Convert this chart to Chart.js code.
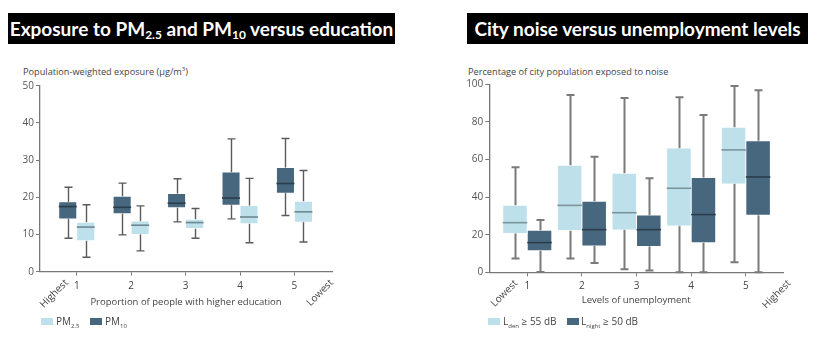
<!DOCTYPE html>
<html>
<head>
<meta charset="utf-8">
<script src="https://cdn.jsdelivr.net/npm/chart.js@4.4.1/dist/chart.umd.min.js"></script>
<style>
  body { margin: 0; background: #fff; width: 815px; height: 350px; position: relative; overflow: hidden; font-family: "Open Sans", sans-serif; }
  .title { position: absolute; top: 13px; height: 31px; background: #000; color: #fff; font-family: Lato, sans-serif; font-weight: bold; font-size: 19px; line-height: 31px; text-align: center; white-space: nowrap; }
  .title sub { font-size: 12px; vertical-align: -3px; line-height: 0; }
  .ytitle { position: absolute; font-size: 9.2px; color: #444; white-space: nowrap; }
  .ytitle sup { font-size: 6px; vertical-align: 4px; line-height: 0; }
  canvas { position: absolute; top: 60px; }
  .legend { position: absolute; top: 314px; font-size: 10px; color: #444; white-space: nowrap; }
  .legend span.item { display: inline-block; }
  .legend i { display: inline-block; width: 12px; height: 7px; vertical-align: 0px; }
  .legend sub { font-size: 6px; vertical-align: -3px; line-height: 0; }
</style>
</head>
<body>
<div class="title" style="left:8px;width:387px;">Exposure to PM<sub>2.5</sub> and PM<sub>10</sub> versus education</div>
<div class="title" style="left:467px;width:341px;">City noise versus unemployment levels</div>

<div class="ytitle" style="left:23px;top:65px;">Population-weighted exposure (µg/m<sup>3</sup>)</div>
<div class="ytitle" style="left:468px;top:65px;">Percentage of city population exposed to noise</div>

<canvas id="pmChart" width="405" height="255" style="left:0px;"></canvas>
<canvas id="noiseChart" width="405" height="255" style="left:410px;"></canvas>

<div class="legend" style="left:41px;">
  <span class="item" style="position:absolute;left:0;"><i style="background:#bde0ea;"></i></span>
  <span class="item" style="position:absolute;left:15px;">PM<sub>2.5</sub></span>
  <span class="item" style="position:absolute;left:49px;"><i style="background:#47677e;"></i></span>
  <span class="item" style="position:absolute;left:64px;">PM<sub>10</sub></span>
</div>
<div class="legend" style="left:488px;">
  <span class="item" style="position:absolute;left:0;"><i style="background:#bde0ea;"></i></span>
  <span class="item" style="position:absolute;left:15px;">L<sub>den</sub> ≥ 55 dB</span>
  <span class="item" style="position:absolute;left:79px;"><i style="background:#47677e;"></i></span>
  <span class="item" style="position:absolute;left:93px;">L<sub>night</sub> ≥ 50 dB</span>
</div>

<script>
// categories
const groups = [1, 2, 3, 4, 5];

// PM10 box values (µg/m3)
const pm10Min = [9.0, 9.9, 13.4, 14.2, 15.1];
const pm10Q1 = [14.2, 15.6, 17.2, 17.9, 21.1];
const pm10Median = [17.5, 17.3, 18.4, 19.8, 23.7];
const pm10Q3 = [18.8, 20.3, 21.0, 26.8, 28.0];
const pm10Max = [22.7, 23.8, 25.0, 35.7, 35.8];

// PM2.5 box values
const pm25Min = [3.9, 5.6, 9.0, 7.8, 8.0];
const pm25Q1 = [8.3, 10.0, 11.6, 12.9, 13.3];
const pm25Median = [12.0, 12.5, 13.2, 14.7, 16.1];
const pm25Q3 = [13.3, 13.6, 14.1, 17.8, 18.9];
const pm25Max = [18.0, 17.7, 17.0, 25.1, 27.2];

// Lden >= 55 dB (% of city population)
const ldenMin = [7.3, 7.3, 1.6, 0, 5.3];
const ldenQ1 = [20.7, 22.2, 22.5, 24.6, 47.0];
const ldenMedian = [26.4, 35.6, 31.7, 44.7, 65.1];
const ldenQ3 = [35.6, 56.9, 52.7, 66.1, 77.1];
const ldenMax = [55.9, 94.3, 92.7, 93.1, 99.1];

// Lnight >= 50 dB
const lnightMin = [0.2, 5.0, 0.9, 0, 0];
const lnightQ1 = [11.5, 14.0, 13.7, 15.8, 30.3];
const lnightMedian = [15.8, 22.7, 22.7, 30.7, 50.7];
const lnightQ3 = [22.3, 37.8, 30.5, 50.4, 70.0];
const lnightMax = [27.8, 61.5, 50.0, 83.7, 96.8];

const pmTicks = [0, 10, 20, 30, 40, 50];
const noiseTicks = [0, 20, 40, 60, 80, 100];

const DARK = '#47677e';
const LIGHT = '#bde0ea';

function boxData(q1, q3) {
    return groups.map((g, i) => ({ x: g, y: [q1[i], q3[i]] }));
}

// whiskers behind the boxes, medians on top
const boxWhiskers = {
    id: 'boxWhiskers',
    beforeDatasetsDraw(chart, args, opts) {
        const ctx = chart.ctx;
        const y = chart.scales.y;
        chart.data.datasets.forEach((ds, di) => {
            const meta = chart.getDatasetMeta(di);
            meta.data.forEach((bar, i) => {
                const x = Math.round(bar.x) + 0.5;
                const top = y.getPixelForValue(ds.whiskerMax[i]);
                const bot = y.getPixelForValue(ds.whiskerMin[i]);
                ctx.save();
                ctx.strokeStyle = opts.color;
                ctx.lineWidth = opts.width;
                ctx.beginPath();
                ctx.moveTo(x, top);
                ctx.lineTo(x, bot);
                ctx.moveTo(x - opts.cap / 2, top);
                ctx.lineTo(x + opts.cap / 2, top);
                ctx.moveTo(x - opts.cap / 2, bot);
                ctx.lineTo(x + opts.cap / 2, bot);
                ctx.stroke();
                ctx.restore();
            });
        });
    },
    afterDatasetsDraw(chart) {
        const ctx = chart.ctx;
        const y = chart.scales.y;
        chart.data.datasets.forEach((ds, di) => {
            const meta = chart.getDatasetMeta(di);
            meta.data.forEach((bar, i) => {
                const py = y.getPixelForValue(ds.median[i]);
                ctx.save();
                ctx.strokeStyle = ds.medianColor;
                ctx.lineWidth = 1.6;
                ctx.beginPath();
                ctx.moveTo(bar.x - bar.width / 2, py);
                ctx.lineTo(bar.x + bar.width / 2, py);
                ctx.stroke();
                ctx.restore();
            });
        });
    }
};

// rotated end labels (Highest / Lowest) on the x axis
const edgeLabels = {
    id: 'edgeLabels',
    afterDraw(chart, args, opts) {
        const ctx = chart.ctx;
        const x = chart.scales.x;
        const yb = chart.chartArea.bottom;
        opts.items.forEach(it => {
            ctx.save();
            ctx.translate(x.getPixelForValue(it.value), yb + 6);
            ctx.rotate(-Math.PI / 4);
            ctx.font = '10px "Open Sans"';
            ctx.fillStyle = '#444';
            ctx.textAlign = 'right';
            ctx.textBaseline = 'top';
            ctx.fillText(it.text, 0, 0);
            ctx.restore();
        });
    }
};

function makeChart(id, datasets, cfg) {
    return new Chart(document.getElementById(id), {
        type: 'bar',
        data: { datasets: datasets },
        plugins: [boxWhiskers, edgeLabels],
        options: {
            responsive: false,
            animation: false,
            layout: { padding: { top: cfg.top, right: cfg.right, left: 0, bottom: 0 } },
            plugins: {
                legend: { display: false },
                tooltip: { enabled: false },
                boxWhiskers: cfg.whisker,
                edgeLabels: { items: cfg.edges }
            },
            scales: {
                x: {
                    type: 'linear',
                    offset: false,
                    min: cfg.xMin,
                    max: cfg.xMax,
                    afterBuildTicks: axis => { axis.ticks = groups.map(v => ({ value: v })); },
                    afterFit: s => { s.height = cfg.xHeight; },
                    grid: { offset: false, drawOnChartArea: false, drawTicks: true, tickLength: 4, color: '#777' },
                    border: { color: '#777', width: 1.3 },
                    ticks: { color: '#444', font: { family: 'Open Sans', size: 10 }, padding: 4, maxRotation: 0 },
                    title: { display: true, text: cfg.xTitle, color: '#444', font: { family: 'Open Sans', size: 9.5 }, padding: { bottom: cfg.xTitlePad } }
                },
                y: {
                    min: 0,
                    max: cfg.yTicks[cfg.yTicks.length - 1],
                    afterBuildTicks: axis => { axis.ticks = cfg.yTicks.map(v => ({ value: v })); },
                    afterFit: s => { s.width = cfg.yWidth; },
                    grid: { drawOnChartArea: false, drawTicks: true, tickLength: 4, color: '#777' },
                    border: { color: '#777', width: 1.3 },
                    ticks: { color: '#555', font: { family: 'Open Sans', size: 10 }, padding: 2 }
                }
            }
        }
    });
}

makeChart('pmChart', [
    {
        label: 'PM10', data: boxData(pm10Q1, pm10Q3),
        whiskerMin: pm10Min, whiskerMax: pm10Max, median: pm10Median, medianColor: '#2b3d4b',
        backgroundColor: DARK, borderColor: 'rgba(255,255,255,0.7)', borderWidth: 0.8, borderSkipped: false,
        barThickness: 18, grouped: true
    },
    {
        label: 'PM2.5', data: boxData(pm25Q1, pm25Q3),
        whiskerMin: pm25Min, whiskerMax: pm25Max, median: pm25Median, medianColor: '#6f878f',
        backgroundColor: LIGHT, borderColor: 'rgba(255,255,255,0.7)', borderWidth: 0.8, borderSkipped: false,
        barThickness: 18, grouped: true
    }
], {
    top: 25.7, right: 73, xMin: 0.325, xMax: 5.69, xHeight: 43.3, yWidth: 40, xTitlePad: 7,
    yTicks: pmTicks, xTitle: 'Proportion of people with higher education',
    whisker: { color: '#5a5a5a', width: 1.4, cap: 8 },
    edges: [{ value: 0.75, text: 'Highest' }, { value: 5.62, text: 'Lowest' }]
});

makeChart('noiseChart', [
    {
        label: 'Lden ≥ 55 dB', data: boxData(ldenQ1, ldenQ3),
        whiskerMin: ldenMin, whiskerMax: ldenMax, median: ldenMedian, medianColor: '#7b949c',
        backgroundColor: LIGHT, borderColor: 'rgba(255,255,255,0.7)', borderWidth: 0.8, borderSkipped: false,
        barThickness: 24.5, grouped: true
    },
    {
        label: 'Lnight ≥ 50 dB', data: boxData(lnightQ1, lnightQ3),
        whiskerMin: lnightMin, whiskerMax: lnightMax, median: lnightMedian, medianColor: '#2b3d4b',
        backgroundColor: DARK, borderColor: 'rgba(255,255,255,0.7)', borderWidth: 0.8, borderSkipped: false,
        barThickness: 24.5, grouped: true
    }
], {
    top: 24.3, right: 32, xMin: 0.305, xMax: 5.68, xHeight: 42.7, yWidth: 79.3, xTitlePad: 9,
    yTicks: noiseTicks, xTitle: 'Levels of unemployment',
    whisker: { color: '#7a7a7a', width: 2, cap: 8 },
    edges: [{ value: 0.73, text: 'Lowest' }, { value: 5.73, text: 'Highest' }]
});
</script>
</body>
</html>
